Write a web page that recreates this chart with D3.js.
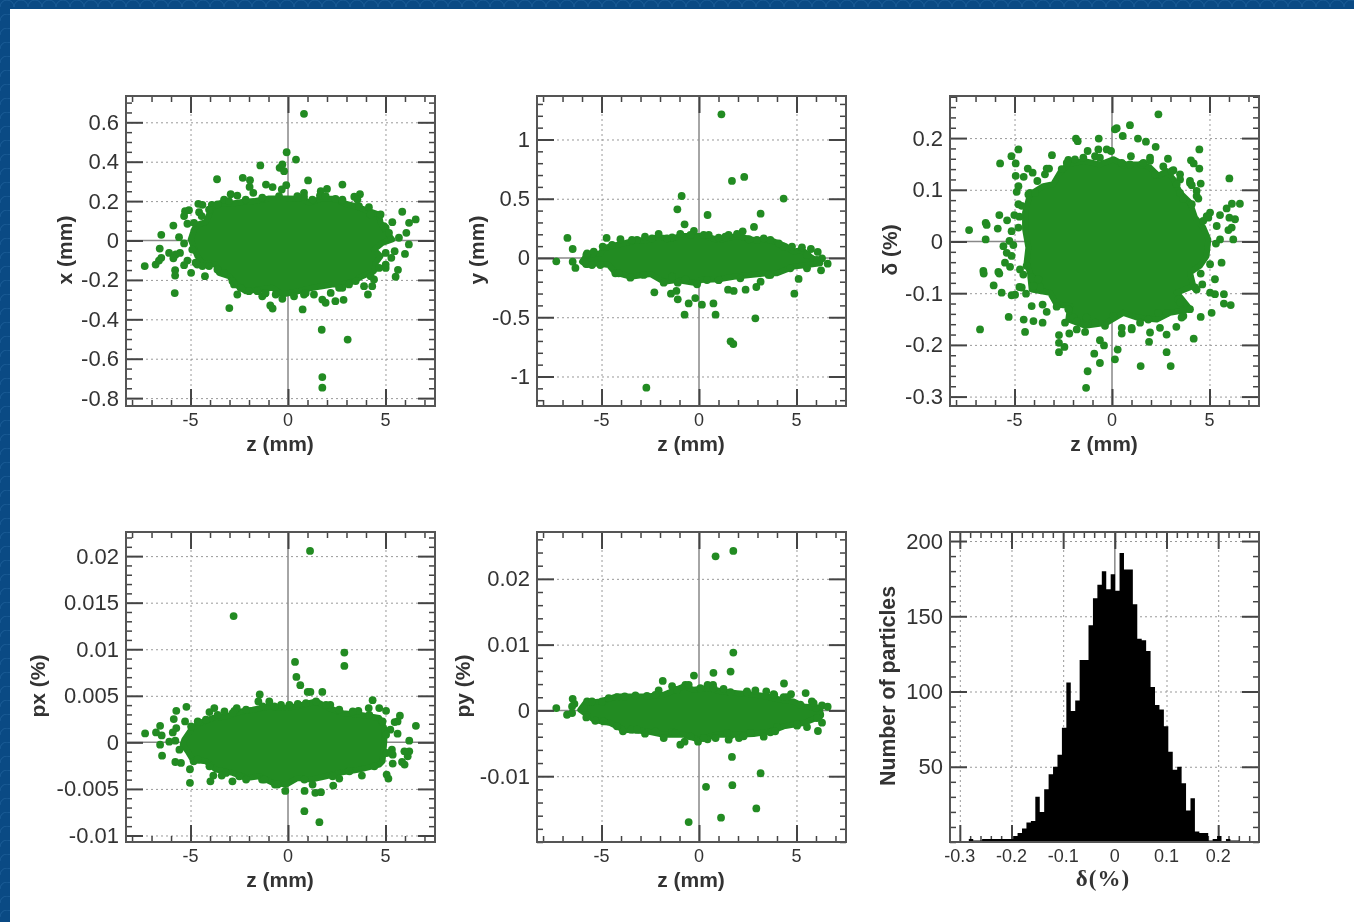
<!DOCTYPE html>
<html>
<head>
<meta charset="utf-8">
<script src="https://cdn.jsdelivr.net/npm/d3@7"></script>
<style>
  html, body { margin: 0; padding: 0; background: #0a4a84; overflow: hidden; }
  svg { display: block; }
  text { font-family: "Liberation Sans", Arial, sans-serif; fill: #333; }
  .plots { filter: blur(0.65px); }
  .major line, .minor line { stroke: #444; }
  .major line { stroke-width: 2; }
  .minor line { stroke-width: 1.5; }
  .grid line { stroke: #999; stroke-width: 1; stroke-dasharray: 2 3; }
  .domain { display: none; }
</style>
</head>
<body>
<div id="chart"></div>
<script>
// the solid middle of each cloud can't be told apart
// into single particles, so it is kept as an outline, the loose ones as points
const xPoints = [[.82,.643],[-.07,.448],[.41,.411],[-1.42,.381],[-.43,.369],[-.29,.386],[-.2,.352],[-3.64,.311],[-2.32,.318],[-1.95,.306],[1.03,.305],[2.79,.284],[-1.13,.284],[-.79,.271],[-.09,.281],[-.32,.259],[-1.97,.272],[-1.78,.242],[2,.262],[1.68,.25],[3.69,.235],[3.4,.222],[-2.94,.235],[-2.6,.228],[.82,.242],[.82,.222],[1.64,.228],[-3.28,.208],[-4.6,.186],[-4.39,.181],[-3.91,.181],[-5.28,.149],[-5.08,.154],[-5.33,.124],[-5.16,.085],[-5.88,.076],[-4.82,.09],[-4.56,.144],[-4.43,.124],[-6.5,.029],[-5.59,.017],[-5.33,-.015],[-6.58,-.041],[-6.1,-.063],[-5.54,-.063],[-5.76,-.071],[-5.88,-.09],[-6.5,-.088],[-6.62,-.102],[-6.79,-.122],[-7.35,-.13],[-5.16,-.102],[-5.33,-.125],[-5.79,-.151],[-5.79,-.178],[-4.97,-.164],[-4.26,-.181],[-5.81,-.267],[-4.65,-.122],[-4.39,-.13],[-3.62,-.147],[-3.28,-.164],[-2.85,-.206],[-2.6,-.274],[-3.01,-.343],[-2,-.257],[-1.57,-.257],[-1.32,-.283],[-1.18,-.269],[-.91,-.33],[-.79,-.345],[-.29,-.296],[.31,-.283],[.82,-.274],[.75,-.35],[1.33,-.274],[1.76,-.3],[1.93,-.316],[2.43,-.308],[2.85,-.301],[1.73,-.453],[3.06,-.503],[1.76,-.693],[1.76,-.747],[2.19,-.266],[2.79,-.24],[3.9,-.232],[4.32,-.232],[4.1,-.274],[3.47,-.206],[4.41,-.198],[5.52,-.184],[5.64,-.149],[5.01,-.139],[5.01,-.122],[5.3,-.088],[5.47,-.054],[6,-.068],[6.2,-.02],[6.07,.039],[5.69,.014],[6.55,.107],[6.21,.09],[5.86,.146],[5.35,.093],[5.01,.064],[4.75,.132],[4.15,.169],[3.64,.174],[3.56,.208],[2.79,.2],[2.44,.211]];
const xEdge = [[-4.05,.157],[-3.62,.183],[-3.03,.2],[-2.17,.208],[-1.32,.217],[-.46,.225],[.48,.225],[1.25,.208],[1.93,.225],[2.79,.208],[4.24,.132],[4.92,.073],[5.18,.039],[5.01,-.063],[4.67,-.139],[4.24,-.181],[3.13,-.223],[2.62,-.24],[.91,-.266],[-.63,-.274],[-1.15,-.266],[-2.43,-.24],[-2.77,-.223],[-4.05,-.13],[-4.74,-.113],[-4.91,-.046]];
const xCore = [[-4.82,-.037],[-4.99,.005],[-4.82,.056],[-4.65,.081],[-4.22,.093],[-4.05,.132],[-3.91,.166],[-3.45,.191],[-2.85,.188],[-2.34,.195],[-1.74,.2],[-.97,.213],[-.12,.213],[.74,.212],[1.08,.191],[1.68,.212],[2.44,.212],[2.79,.191],[3.47,.174],[4.15,.149],[4.67,.132],[4.75,.09],[5.01,.047],[5.35,.005],[4.84,-.012],[4.41,-.046],[4.75,-.08],[4.5,-.113],[4.41,-.156],[3.81,-.181],[3.38,-.206],[2.79,-.223],[2.27,-.223],[1.76,-.232],[1.25,-.24],[.56,-.257],[-.29,-.274],[-.8,-.24],[-1.49,-.249],[-2.17,-.257],[-2.68,-.223],[-3.03,-.181],[-3.54,-.164],[-3.71,-.122],[-4.39,-.113],[-4.65,-.08]];

const yPoints = [[1.15,1.212],[2.32,.684],[1.69,.65],[-.89,.523],[4.34,.501],[-1.11,.411],[.44,.363],[3.16,.374],[-.74,.284],[2.82,.262],[-.26,.228],[2.24,.225],[1.95,.203],[-6.75,.169],[-4.74,.169],[-2.77,.18],[-4.03,.158],[-2.07,.203],[-.96,.203],[-6.48,.076],[-7.32,-.028],[-6.48,-.031],[-6.34,-.084],[-5.78,.025],[-5.79,-.051],[-4.94,.096],[5.28,.09],[5.74,.076],[6.09,.051],[6.31,-.003],[6.6,-.048],[6.26,-.104],[5.54,-.087],[5.11,-.177],[4.89,-.301],[3.16,-.2],[2.94,-.245],[2.39,-.267],[1.49,-.267],[1.78,-.278],[-2.29,-.29],[-1.44,-.301],[-1.16,-.278],[-1.09,-.349],[-.53,-.383],[-.19,-.338],[.15,-.394],[.74,-.383],[-.74,-.478],[.85,-.478],[2.89,-.509],[1.62,-.703],[1.76,-.726],[-2.7,-1.094],[-1.81,-.208],[-1.09,-.208],[-.1,-.222],[-3.52,-.166],[-4.29,-.129],[1.01,-.186],[3.66,-.143],[4.34,.096],[3.66,.152],[2.97,.152],[1.52,.194],[1.01,.172],[.24,.194],[-1.38,.174],[-3.18,.152]];
const yEdge = [[-5.74,.039],[-5.4,.053],[-4.46,.11],[-3.44,.152],[-2.41,.166],[-1.64,.166],[-.44,.194],[.5,.194],[1.35,.18],[2.55,.158],[3.32,.166],[4.09,.124],[4.77,.096],[5.54,.025],[6.05,-.017],[4.68,-.087],[3.57,-.143],[2.12,-.172],[1.01,-.186],[.41,-.186],[-.7,-.18],[-1.38,-.158],[-2.84,-.143],[-4.12,-.129],[-5.06,-.059],[-5.49,-.059]];
const yCore = [[-6,-.031],[-5.74,.025],[-5.06,.039],[-4.89,.082],[-4.21,.11],[-3.86,.124],[-3.18,.152],[-2.75,.146],[-2.15,.174],[-1.3,.166],[-.96,.186],[.24,.186],[1.01,.152],[1.95,.186],[2.8,.152],[3.66,.152],[4.43,.101],[4.85,.053],[5.28,.068],[5.71,.011],[6.22,-.045],[5.54,-.059],[4.85,-.073],[4,-.129],[3.49,-.129],[2.63,-.143],[1.78,-.158],[1.01,-.18],[.07,-.186],[-.1,-.214],[-1.13,-.186],[-1.81,-.2],[-2.5,-.135],[-3.52,-.158],[-4.29,-.124],[-4.63,-.059],[-5.23,-.045],[-5.74,-.059]];

const deltaPoints = [[2.38,.246],[.92,.225],[.24,.219],[.15,.217],[.55,.204],[-1.85,.199],[-1.76,.194],[-.68,.199],[1.33,.199],[1.74,.193],[2.24,.183],[4.48,.178],[-4.8,.178],[-.7,.178],[-.27,.178],[-.05,.175],[-1.25,.175],[-3.08,.167],[-5.16,.165],[-5.74,.151],[-4.94,.151],[.97,.165],[1.95,.162],[2.87,.16],[4.05,.157],[4.19,.151],[4.48,.141],[6.02,.122],[-4.32,.141],[-4.07,.133],[-3.35,.141],[-3.23,.141],[-3.44,.13],[-4.94,.127],[-4.53,.125],[-3.83,.117],[-4.8,.107],[-4.89,.096],[3.49,.13],[3.15,.138],[4,.117],[4.55,.112],[4.09,.109],[4.34,.098],[3.49,.094],[4.43,.083],[6.56,.073],[6.15,.073],[5.88,.064],[5.54,.051],[5.03,.056],[4.86,.049],[6.02,.046],[6.31,.043],[5.37,.03],[6.14,.027],[5.97,.022],[6.22,.004],[5.54,.004],[5.33,-.004],[-7.33,.022],[-6.48,.036],[-6.43,.032],[-5.86,.025],[-5.78,.051],[-5.38,.041],[-5.01,.051],[-4.75,.048],[-5.15,.02],[-4.8,.027],[-6.48,.004],[-5.26,.001],[-5.06,-.007],[-5.57,-.009],[-5.4,-.022],[-5.15,-.028],[-5.49,-.041],[-5.23,-.049],[-4.72,-.054],[-4.55,-.064],[-6.6,-.057],[-6.58,-.062],[-5.83,-.059],[-5.78,-.062],[-6.07,-.085],[-5.66,-.099],[-5.15,-.104],[-4.97,-.103],[-4.75,-.088],[-4.41,-.101],[-4.12,-.125],[-3.56,-.122],[-3.35,-.136],[-5.3,-.146],[-4.53,-.151],[-4.03,-.154],[-3.56,-.157],[-6.77,-.17],[-4.46,-.175],[-2.72,-.181],[-2.72,-.196],[-2.44,-.204],[-2.72,-.214],[-2.41,-.157],[-2.19,-.178],[-1.81,-.17],[-1.38,-.175],[-.62,-.191],[-.41,-.201],[-.91,-.217],[-.62,-.235],[-1.25,-.251],[-1.33,-.283],[.29,-.209],[.15,-.228],[1.47,-.241],[3.01,-.241],[2.8,-.214],[1.9,-.194],[2.8,-.18],[4.19,-.188],[3.3,-.165],[4.55,-.146],[5.11,-.138],[5.74,-.12],[6.09,-.123],[5.74,-.102],[5.28,-.102],[5.03,-.099],[4.63,-.083],[5.28,-.073],[4.55,-.062],[5.03,-.044],[5.62,-.041],[.5,-.178],[1.01,-.17],[1.95,-.176],[2.46,-.167],[3.66,-.144],[4,-.131],[3.4,-.112],[4.34,-.093],[-4.03,-.073],[-2.24,.158],[-1.47,.162],[.58,.149],[1.52,.149],[2.63,.145],[2.21,.13],[-4.29,.091],[-4.8,.072],[-2.58,.14]];
const deltaEdge = [[-4.38,-.047],[-4.12,-.07],[-3.78,-.073],[-3.69,-.089],[-4.03,-.086],[-4.63,-.089],[-2.84,-.126],[-2.24,-.131],[-1.98,-.147],[-1.81,-.154],[-1.3,-.147],[-.87,-.157],[-.36,-.163],[.07,-.144],[.5,-.167],[1.01,-.167],[1.44,-.157],[1.86,-.151],[2.38,-.138],[2.8,-.138],[3.57,-.147],[3.49,-.118],[4.26,-.089],[-2.32,.152],[-1.9,.159],[-.87,.165],[-.62,.162],[.5,.152],[.92,.149],[1.61,.152],[1.95,.156],[3.06,.136],[3.49,.12],[3.32,.111],[4,.113],[4.34,.088],[3.66,.082],[4.09,.072],[4.68,.04],[4.94,.046],[-4.21,.094],[-3.95,.094],[-4.63,.069]];
const deltaCore = [[-4.29,-.012],[-4.46,.024],[-4.46,.056],[-4.21,.091],[-3.52,.107],[-3.01,.111],[-2.67,.133],[-2.24,.149],[-1.47,.156],[-.62,.149],[.07,.159],[.58,.149],[1.52,.149],[1.95,.143],[2.38,.127],[2.8,.136],[3.15,.12],[3.49,.094],[4,.075],[4.26,.046],[4.68,.027],[4.94,.004],[4.85,-.028],[4.51,-.047],[4,-.06],[4.17,-.086],[3.32,-.099],[4,-.131],[2.97,-.138],[2.29,-.151],[1.26,-.147],[.58,-.138],[-.27,-.157],[-1.38,-.163],[-2.24,-.151],[-2.15,-.125],[-2.84,-.122],[-3.18,-.099],[-4.12,-.093],[-4.21,-.06],[-4.38,-.041]];

const pxPoints = [[1.13,.02056],[-2.79,.01356],[2.89,.00964],[2.89,.00821],[.36,.00864],[.43,.00703],[.63,.00614],[1.01,.00542],[1.15,.00542],[1.76,.00542],[-1.45,.00514],[4.34,.00453],[-1.52,.00439],[-.96,.00439],[-.36,.00403],[.5,.00414],[1.44,.00439],[2.17,.00403],[-5.21,.00382],[-5.73,.00339],[-3.78,.00368],[-4.03,.00325],[-3.26,.00332],[-2.63,.00368],[-2.75,.00339],[3.61,.00339],[4.14,.00368],[4.68,.00368],[5.03,.00339],[5.74,.00286],[5.62,.00225],[5.47,.00218],[6.56,.00178],[-5.86,.0025],[-5.28,.00225],[-6.56,.00178],[-5.73,.00153],[-4.97,.00171],[-7.33,.00096],[-6.77,.00107],[-6.48,.00075],[-5.91,.00107],[-6.09,.00007],[-5.78,.00018],[-6.56,-.00025],[-6.46,-.00143],[-5.57,-.00079],[-5.49,-.00221],[-5.78,-.00211],[-4.84,-.00203],[-5.03,-.00289],[-5.03,-.00435],[-3.83,-.00357],[-3.98,-.00418],[-3.4,-.00357],[-2.85,-.00418],[-1.33,-.004],[-.67,-.00453],[-.14,-.00521],[.85,-.00521],[1.4,-.00542],[1.69,-.00535],[2.32,-.00464],[2.63,-.00389],[3.79,-.00357],[5.15,-.00389],[5.06,-.00346],[5.98,-.00239],[5.85,-.00211],[6.14,-.0015],[6.22,-.00096],[5.97,-.00096],[5.33,-.00079],[5.37,-.00132],[6.22,.00018],[5.62,.00093],[5.25,.00136],[5.37,-.00228],[.84,-.00739],[1.61,-.00857],[1.26,-.00453],[-2.15,-.004]];
const pxEdge = [[-4.63,.00225],[-4.21,.00243],[-3.61,.00296],[-2.84,.00314],[-2.15,.0035],[-1.3,.00385],[-.7,.00385],[.07,.00403],[.92,.00421],[1.95,.00403],[2.63,.0035],[3.32,.00332],[4.17,.00296],[4.85,.00225],[5.03,.00082],[5.06,-.00114],[4.43,-.00257],[3.15,-.0031],[2.29,-.00364],[.84,-.004],[-.53,-.00453],[-1.21,-.004],[-2.5,-.00364],[-3.18,-.00328],[-4.03,-.00257],[-4.63,-.00186]];
const pxCore = [[-5.4,-.00025],[-5.32,.00029],[-4.97,.00136],[-4.55,.00207],[-3.86,.00261],[-3.18,.00278],[-2.41,.00332],[-1.81,.0035],[-.96,.00385],[-.27,.00368],[.41,.00385],[1.44,.00439],[2.12,.00368],[2.8,.00314],[3.66,.00296],[4.68,.00261],[4.94,.00153],[4.94,.00011],[4.85,-.00203],[4.68,-.00239],[3.66,-.00293],[2.63,-.00328],[1.95,-.00364],[1.18,-.004],[.5,-.00382],[-.1,-.00453],[-.79,-.00435],[-1.47,-.00364],[-2.15,-.00382],[-2.84,-.00328],[-3.69,-.00293],[-4.21,-.00203],[-4.89,-.00186],[-5.15,-.00096]];

const pyPoints = [[1.76,.02424],[.85,.02343],[1.76,.00879],[1.62,.00591],[.74,.00571],[-.26,.0053],[-1.86,.00449],[-1.38,.00369],[-2.07,.00303],[-.7,.00389],[.44,.00389],[.72,.00389],[1.26,.00328],[4.36,.00409],[5.47,.00263],[3.45,.00288],[2.89,.00303],[2.46,.00288],[3.86,.00237],[4.72,.00247],[4.34,.00202],[5.79,.00136],[6.31,.00076],[6.6,.00056],[6.02,.00035],[6.22,-.00066],[6.31,-.00187],[5.54,-.00253],[6.1,-.00313],[5.03,-.00232],[4,-.00253],[3.66,-.00333],[3.32,-.00399],[2.63,-.00343],[2.05,-.00419],[1.62,-.00379],[1.52,-.00444],[.85,-.00419],[.44,-.00439],[-.05,-.00475],[-.74,-.00475],[-.96,-.0052],[-1.81,-.00419],[-2.77,-.00354],[-3.9,-.00318],[-3.47,-.00293],[-1.38,-.00333],[-5.78,-.00106],[-5.32,-.00157],[-6.77,-.00066],[-6.51,-.0004],[-7.32,.00035],[-6.48,.00177],[-6.39,.00101],[-6.51,.00061],[-5.74,.00136],[-5.91,.00035],[-4.97,.00136],[-4.21,.00202],[-3.26,.00227],[-2.67,.00222],[1.69,-.00707],[3.16,-.00955],[1.71,-.01136],[.36,-.01162],[2.94,-.0149],[1.13,-.01631],[-.53,-.01697]];
const pyEdge = [[-5.49,.00136],[-4.63,.00187],[-3.81,.00212],[-2.24,.00237],[-1.13,.00313],[-.53,.00389],[.07,.00338],[.75,.00338],[1.61,.00278],[2.46,.00278],[3.83,.00247],[4.51,.00202],[5.2,.00086],[5.88,.00111],[6.05,-.00116],[5.03,-.00207],[3.91,-.00318],[2.29,-.00394],[1.44,-.00343],[.24,-.00419],[-.44,-.00394],[-1.21,-.00343],[-2.24,-.00318],[-3.18,-.00293],[-4.21,-.00242],[-4.89,-.00167]];
const pyCore = [[-6.09,.0001],[-5.83,.00111],[-5.06,.00136],[-4.21,.00212],[-3.35,.00212],[-2.67,.00212],[-1.81,.00237],[-.79,.00364],[-.27,.00313],[.41,.00338],[1.18,.00288],[1.95,.00263],[2.89,.00237],[3.49,.00212],[4.17,.00162],[4.85,.00136],[5.37,.00061],[6.22,.00035],[6.22,-.00091],[5.37,-.00192],[4.34,-.00242],[3.66,-.00318],[2.8,-.00359],[1.95,-.00369],[.92,-.00369],[-.02,-.00444],[-.79,-.00369],[-1.81,-.00369],[-2.67,-.00318],[-3.86,-.00293],[-4.55,-.00192],[-5.4,-.00141]];

const histBinStart = -0.2826;
const histBinWidth = 0.00858;
const histCounts = [2,1,1,2,2,2,2,2,2,2,4,6,9,13,14,30,20,35,45,50,58,76,106,87,94,121,121,144,162,171,180,168,178,167,192,181,181,158,135,134,127,103,91,88,77,60,48,50,39,21,29,7,6,6,1,2,4,0,2,1,1];

const zMajor = [-5, 0, 5];
const zMinor = [-8, -7, -6, -4, -3, -2, -1, 1, 2, 3, 4, 6, 7];
const zDomain = [-8.31, 7.54];

const panels = [
  { left: 126, top: 96, points: xPoints.concat(xEdge), core: xCore, yLabel: "x (mm)", labelX: 65, domain: [-.84, .7335], major: [-.8, -.6, -.4, -.2, 0, .2, .4, .6], minorStep: .05 },
  { left: 537, top: 96, points: yPoints.concat(yEdge), core: yCore, yLabel: "y (mm)", labelX: 477, domain: [-1.249, 1.367], major: [-1, -.5, 0, .5, 1], minorStep: .1 },
  { left: 950, top: 96, points: deltaPoints.concat(deltaEdge), core: deltaCore, yLabel: "δ (%)", labelX: 890, domain: [-.3182, .2814], major: [-.3, -.2, -.1, 0, .1, .2], minorStep: .02 },
  { left: 126, top: 532, points: pxPoints.concat(pxEdge), core: pxCore, yLabel: "px (%)", labelX: 38, domain: [-.0107, .02259], major: [-.01, -.005, 0, .005, .01, .015, .02], minorStep: .001 },
  { left: 537, top: 532, points: pyPoints.concat(pyEdge), core: pyCore, yLabel: "py (%)", labelX: 463, domain: [-.02, .02712], major: [-.01, 0, .01, .02], minorStep: .002 },
];

const width = 1354, height = 922;
const plotW = 309, plotH = 310;
const green = "#228b22";

const svg = d3.select("#chart").append("svg")
  .attr("width", width)
  .attr("height", height);

// the page behind the figure, blue with a faint scale pattern
const pattern = svg.append("defs").append("pattern")
  .attr("id", "scales")
  .attr("width", 28).attr("height", 14)
  .attr("patternUnits", "userSpaceOnUse");
pattern.append("rect").attr("width", 28).attr("height", 14).attr("fill", "#0a4a84");
pattern.append("path")
  .attr("d", "M0 7 A7 7 0 0 1 14 7 A7 7 0 0 1 28 7")
  .attr("fill", "none")
  .attr("stroke", "#1a5c96")
  .attr("stroke-width", 1);

svg.append("rect").attr("width", width).attr("height", height).attr("fill", "url(#scales)");
svg.append("rect").attr("x", 10).attr("y", 9).attr("width", width - 10).attr("height", height - 9).attr("fill", "#fff");

const plots = svg.append("g").attr("class", "plots");

function minorValues(domain, step, major) {
  const first = Math.ceil(domain[0] / step);
  const last = Math.floor(domain[1] / step);
  return d3.range(first, last + 1)
    .map(i => +(i * step).toFixed(6))
    .filter(v => !major.some(m => Math.abs(m - v) < step / 10));
}

function drawFrame(g, xScale, yScale, opts) {
  const { xMajor, yMajor } = opts;

  g.append("g").attr("class", "grid")
    .attr("transform", `translate(0, ${plotH})`)
    .call(d3.axisBottom(xScale).tickValues(xMajor.filter(v => v !== 0)).tickSize(-plotH).tickFormat(""));
  g.append("g").attr("class", "grid")
    .call(d3.axisLeft(yScale).tickValues(yMajor.filter(v => v !== 0 || opts.noZeroY)).tickSize(-plotW).tickFormat(""));

  // zero lines
  g.append("line")
    .attr("x1", xScale(0)).attr("x2", xScale(0))
    .attr("y1", 0).attr("y2", plotH)
    .attr("stroke", "#888").attr("stroke-width", 1.5);
  if (!opts.noZeroY) {
    g.append("line")
      .attr("x1", 0).attr("x2", plotW)
      .attr("y1", yScale(0)).attr("y2", yScale(0))
      .attr("stroke", "#888").attr("stroke-width", 1.5);
  }
}

function drawBorder(g) {
  g.append("rect")
    .attr("width", plotW).attr("height", plotH)
    .attr("fill", "none").attr("stroke", "#555").attr("stroke-width", 2);
}

function drawTicks(g, xScale, yScale, opts) {
  const { xMajor, xMinor, yMajor, yMinor } = opts;
  const majorLen = 17, minorLen = 6;

  const bottom = s => d3.axisBottom(xScale).tickFormat("").tickSizeOuter(0).tickSize(-s);
  const top = s => d3.axisTop(xScale).tickFormat("").tickSizeOuter(0).tickSize(-s);
  const left = s => d3.axisLeft(yScale).tickFormat("").tickSizeOuter(0).tickSize(-s);
  const right = s => d3.axisRight(yScale).tickFormat("").tickSizeOuter(0).tickSize(-s);

  const xAxis = (axisFn, len, values, cls, y) => g.append("g").attr("class", cls)
    .attr("transform", `translate(0, ${y})`)
    .call(axisFn(len).tickValues(values));
  const yAxis = (axisFn, len, values, cls, x) => g.append("g").attr("class", cls)
    .attr("transform", `translate(${x}, 0)`)
    .call(axisFn(len).tickValues(values));

  xAxis(bottom, minorLen, xMinor, "minor", plotH);
  xAxis(top, minorLen, xMinor, "minor", 0);
  yAxis(left, minorLen, yMinor, "minor", 0);
  yAxis(right, minorLen, yMinor, "minor", plotW);
  xAxis(bottom, majorLen, xMajor, "major", plotH);
  xAxis(top, majorLen, xMajor, "major", 0);
  yAxis(left, majorLen, yMajor, "major", 0);
  yAxis(right, majorLen, yMajor, "major", plotW);

  // tick labels sit outside the frame
  g.append("g").selectAll("text").data(xMajor).enter().append("text")
    .attr("x", d => xScale(d))
    .attr("y", plotH + 20)
    .attr("text-anchor", "middle")
    .style("font-size", opts.xFont + "px")
    .text(d => d);
  g.append("g").selectAll("text").data(yMajor).enter().append("text")
    .attr("x", -7)
    .attr("y", d => yScale(d) + 7.5)
    .attr("text-anchor", "end")
    .style("font-size", "22px")
    .text(d => d);
}

panels.forEach(p => {
  const g = plots.append("g").attr("transform", `translate(${p.left}, ${p.top})`);
  const x = d3.scaleLinear().domain(zDomain).range([0, plotW]);
  const y = d3.scaleLinear().domain(p.domain).range([plotH, 0]);
  const opts = {
    xMajor: zMajor,
    xMinor: zMinor,
    yMajor: p.major,
    yMinor: minorValues(p.domain, p.minorStep, p.major),
    xFont: 18,
  };

  drawFrame(g, x, y, opts);

  // round joins on a dot-wide stroke so the edge bumps like overlapping dots
  g.append("path")
    .datum(p.core)
    .attr("d", d3.line().x(d => x(d[0])).y(d => y(d[1])).curve(d3.curveLinearClosed))
    .attr("fill", green)
    .attr("stroke", green)
    .attr("stroke-width", 6)
    .attr("stroke-linejoin", "round");

  g.selectAll(".dot")
    .data(p.points)
    .enter()
    .append("circle")
    .attr("class", "dot")
    .attr("cx", d => x(d[0]))
    .attr("cy", d => y(d[1]))
    .attr("r", 3.9)
    .attr("fill", green);

  drawTicks(g, x, y, opts);
  drawBorder(g);

  g.append("text")
    .attr("x", 154)
    .attr("y", plotH + 45)
    .attr("text-anchor", "middle")
    .style("font-size", "21px")
    .style("font-weight", "bold")
    .text("z (mm)");

  g.append("text")
    .attr("transform", `translate(${p.labelX - p.left + 7}, ${154}) rotate(-90)`)
    .attr("text-anchor", "middle")
    .style("font-size", "21px")
    .style("font-weight", "bold")
    .text(p.yLabel);
});

// histogram, bottom right
{
  const g = plots.append("g").attr("transform", "translate(950, 532)");
  const x = d3.scaleLinear().domain([-.319, .279]).range([0, plotW]);
  const y = d3.scaleLinear().domain([0, 206]).range([plotH, 0]);
  const xTicks = [-.3, -.2, -.1, 0, .1, .2];
  const yTicks = [50, 100, 150, 200];
  const opts = {
    xMajor: xTicks,
    xMinor: minorValues([-.319, .279], .02, xTicks),
    yMajor: yTicks,
    yMinor: minorValues([0, 206], 10, yTicks),
    xFont: 18,
    noZeroY: true,
  };

  drawFrame(g, x, y, opts);
  drawTicks(g, x, y, opts);

  // one stepped shape, separate rects leave seams between the bins.
  // goes over the ticks, they don't show through in the original
  const histArea = d3.area()
    .x((d, i) => x(histBinStart + i * histBinWidth))
    .y0(y(0))
    .y1(d => y(d))
    .curve(d3.curveStepAfter);
  g.append("path")
    .datum(histCounts.concat([0]))
    .attr("d", histArea)
    .attr("fill", "#000");

  drawBorder(g);

  g.append("text")
    .attr("x", 153)
    .attr("y", plotH + 44)
    .attr("text-anchor", "middle")
    .style("font-family", "'Liberation Serif', serif")
    .style("font-size", "23px")
    .style("font-weight", "bold")
    .style("letter-spacing", "1px")
    .text("δ(%)");

  g.append("text")
    .attr("transform", `translate(-55, 154) rotate(-90)`)
    .attr("text-anchor", "middle")
    .style("font-size", "21.3px")
    .style("font-weight", "bold")
    .text("Number of particles");
}
</script>
</body>
</html>
